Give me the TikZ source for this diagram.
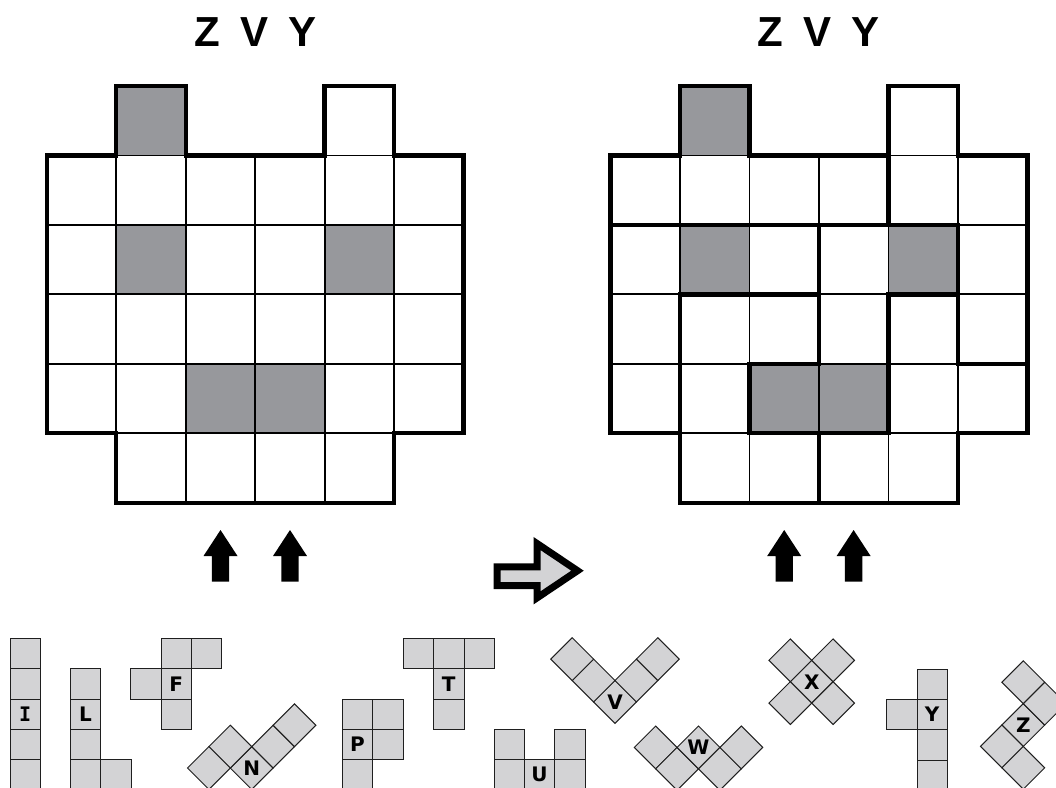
\documentclass[tikz,border=0pt]{standalone}
\usepackage{fontspec}
\newfontfamily\titlefont{Liberation Sans}
\newfontfamily\labelfont{DejaVu Sans}
\newfontfamily\monolabel{DejaVu Sans Mono}
\definecolor{gridgray}{HTML}{97989C}
\definecolor{piecegray}{HTML}{D3D3D5}
\newcommand\puzzlegrid{%
  \foreach \c/\r in {1/0,1/2,4/2,2/4,3/4} \fill[gridgray] (\c,\r) rectangle ++(1,1);
  \foreach \c/\r in {1/0,4/0,1/5,2/5,3/5,4/5} \draw[thinline] (\c,\r) rectangle ++(1,1);
  \foreach \r in {1,...,4} \foreach \c in {0,...,5} \draw[thinline] (\c,\r) rectangle ++(1,1);
  \draw[thickline] (1,0) -- (2,0) -- (2,1) -- (4,1) -- (4,0) -- (5,0) -- (5,1) -- (6,1)
    -- (6,5) -- (5,5) -- (5,6) -- (1,6) -- (1,5) -- (0,5) -- (0,1) -- (1,1) -- cycle;
}
\newcommand\sqpiece[3]{%
  \begin{scope}[shift={(#1pt,-#2pt)},x=30.35pt,y=-30.35pt]
    \foreach \c/\r in {#3} \draw[piece] (\c,\r) rectangle ++(1,1);
  \end{scope}}
\newcommand\dcell[2]{\draw[piece] (#1,#2) ++(0,-21.4) -- ++(21.4,21.4) -- ++(-21.4,21.4) -- ++(-21.4,-21.4) -- cycle;}
\begin{document}
\begin{tikzpicture}[x=1pt,y=-1pt,
  thinline/.style={line width=1.8pt, draw=black},
  thickline/.style={line width=4.4pt, draw=black, line cap=rect, line join=miter},
  piece/.style={fill=piecegray, draw=black!88, line width=1pt, line join=miter},
  plabel/.style={font=\labelfont\bfseries\fontsize{20}{20}\selectfont, inner sep=0pt},
  title/.style={font=\titlefont\bfseries\fontsize{42}{42}\selectfont, inner sep=0pt, anchor=base},
  uparrow/.style={fill=black}]
\path[use as bounding box] (0,0) rectangle (1056,787);
\clip (0,0) rectangle (1056,787);

% titles
\node[title] (t1) at (255.3,46.7) {{\spaceskip=20pt Z V Y}};
\node[title] (t2) at (818.7,46.7) {{\spaceskip=20pt Z V Y}};

% left grid
\begin{scope}[shift={(46.8pt,-86pt)},x=69.45pt,y=-69.45pt]
  \puzzlegrid
\end{scope}

% right grid
\begin{scope}[shift={(610.6pt,-86pt)},x=69.45pt,y=-69.45pt]
  \puzzlegrid
  \draw[thickline] (0,2) -- (5,2);
  \draw[thickline] (4,1) -- (4,2);
  \draw[thickline] (5,2) -- (5,4);
  \draw[thickline] (1,3) -- (3,3);
  \draw[thickline] (4,3) -- (5,3);
  \draw[thickline] (1,3) -- (1,5);
  \draw[thickline] (3,2) -- (3,4);
  \draw[thickline] (3,5) -- (3,6);
  \draw[thickline] (2,4) -- (3,4);
  \draw[thickline] (5,4) -- (6,4);
  \draw[thickline] (2,4) -- (2,5);
  \draw[thickline] (4,3) -- (4,5);
  \draw[thickline] (2,5) -- (4,5);
\end{scope}

% up arrows
\foreach \cx in {220.5,290,784.2,853.6}
  \fill[uparrow] (\cx,530) -- (\cx+17,556) -- (\cx+8.7,556) -- (\cx+8.7,581.7)
     -- (\cx-8.7,581.7) -- (\cx-8.7,556) -- (\cx-17,556) -- cycle;

% big outlined arrow
\draw[fill=piecegray, line width=7pt, line join=miter, miter limit=10]
  (497,566.8) -- (537,566.8) -- (537,543.5) -- (577.5,570.7) -- (537,597.9)
  -- (537,585.5) -- (497,585.5) -- cycle;

% square pieces
\sqpiece{10}{638.3}{0/0,0/1,0/2,0/3,0/4}
\sqpiece{70.3}{668.7}{0/0,0/1,0/2,0/3,1/3}
\sqpiece{130.7}{638.3}{1/0,2/0,0/1,1/1,1/2}
\sqpiece{342.3}{699}{0/0,1/0,0/1,1/1,0/2}
\sqpiece{403.3}{638.3}{0/0,1/0,2/0,1/1,1/2}
\sqpiece{494}{729.3}{0/0,0/1,1/1,2/0,2/1}
\sqpiece{886.7}{669}{1/0,0/1,1/1,1/2,1/3}

% diagonal pieces
\dcell{251.7}{768}\dcell{273.1}{746.6}\dcell{294.5}{725.2}\dcell{230.3}{746.6}\dcell{208.9}{768}
\dcell{615}{701.9}\dcell{593.6}{680.5}\dcell{572.2}{659.1}\dcell{636.4}{680.5}\dcell{657.8}{659.1}
\dcell{655.7}{747.4}\dcell{677.1}{768.8}\dcell{698.5}{747.4}\dcell{719.9}{768.8}\dcell{741.3}{747.4}
\dcell{811.7}{681.7}\dcell{790.3}{660.3}\dcell{833.1}{660.3}\dcell{790.3}{703.1}\dcell{833.1}{703.1}
\dcell{1023.3}{725}\dcell{1044.7}{703.6}\dcell{1023.3}{682.2}\dcell{1001.9}{746.4}\dcell{1023.3}{767.8}

% labels
\node[plabel, font=\monolabel\bfseries\fontsize{20}{20}\selectfont] (lI) at (25.2,714.2) {I};
\node[plabel] (lL) at (85.5,714.2) {L};
\node[plabel] (lF) at (176.2,683.8) {F};
\node[plabel] (lN) at (251.7,768) {N};
\node[plabel] (lP) at (357.5,744.5) {P};
\node[plabel] (lT) at (448.8,683.8) {T};
\node[plabel] (lU) at (539.5,774.8) {U};
\node[plabel] (lV) at (615,701.9) {V};
\node[plabel] (lW) at (698.5,747.4) {W};
\node[plabel] (lX) at (811.7,681.7) {X};
\node[plabel] (lY) at (932.2,714.5) {Y};
\node[plabel] (lZ) at (1023.3,725) {Z};
\end{tikzpicture}
\end{document}
